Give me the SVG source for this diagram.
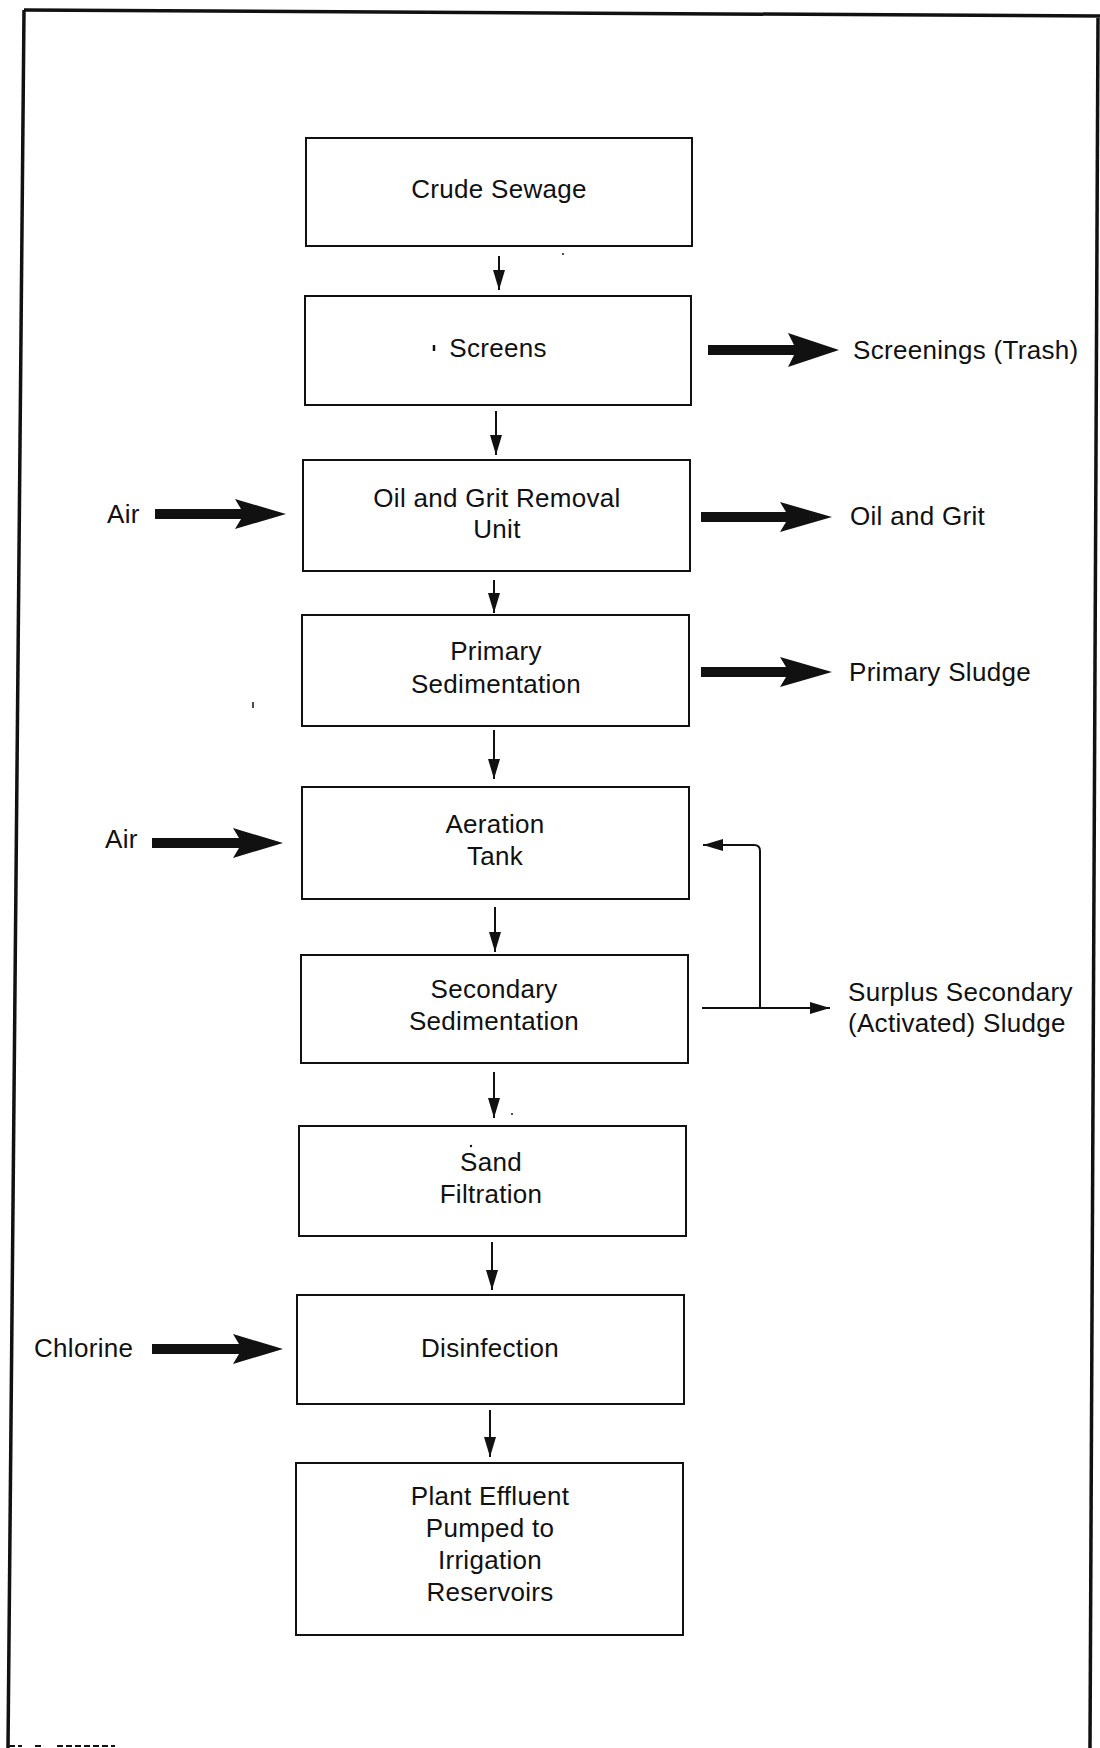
<svg xmlns="http://www.w3.org/2000/svg" width="1100" height="1748" viewBox="0 0 1100 1748">
<defs>
<style>
.box{fill:#fff;stroke:#111;stroke-width:2}
.t{font-family:"Liberation Sans",Arial,Helvetica,sans-serif;font-size:26px;fill:#111;letter-spacing:0.3px}
.m{text-anchor:middle}
.thin{stroke:#111;stroke-width:2;fill:none}
.fat{fill:#111;stroke:none}
.frame{stroke:#111;stroke-width:3.5;fill:none}
</style>
<marker id="ah" markerUnits="userSpaceOnUse" markerWidth="22" markerHeight="14" refX="20" refY="6" orient="auto">
<path d="M0,0 L20,6 L0,12 Z" fill="#111"/>
</marker>
</defs>
<rect width="1100" height="1748" fill="#fff"/>
<g id="frame">
<path class="frame" d="M24,10 L1100,16"/>
<path class="frame" d="M24,10 L8,1748"/>
<path class="frame" d="M1098,18 L1090,1748"/>
<path d="M9,1746 H22 M35,1746 H42 M57,1746 H115" stroke="#111" stroke-width="2" fill="none" stroke-dasharray="6 3"/>
</g>
<g id="n-crude"><rect class="box" x="306" y="138" width="386" height="108"/><text class="t m" x="499" y="198">Crude Sewage</text></g>
<g id="n-screens"><rect class="box" x="305" y="296" width="386" height="109"/><line x1="434" y1="345" x2="434" y2="351" stroke="#111" stroke-width="2.5"/><text class="t m" x="498" y="357">Screens</text></g>
<g id="n-oil"><rect class="box" x="303" y="460" width="387" height="111"/><text class="t m" x="497" y="507">Oil and Grit Removal</text><text class="t m" x="497" y="538">Unit</text></g>
<g id="n-primary"><rect class="box" x="302" y="615" width="387" height="111"/><text class="t m" x="496" y="660">Primary</text><text class="t m" x="496" y="693">Sedimentation</text></g>
<g id="n-aeration"><rect class="box" x="302" y="787" width="387" height="112"/><text class="t m" x="495" y="833">Aeration</text><text class="t m" x="495" y="865">Tank</text></g>
<g id="n-secondary"><rect class="box" x="301" y="955" width="387" height="108"/><text class="t m" x="494" y="998">Secondary</text><text class="t m" x="494" y="1030">Sedimentation</text></g>
<g id="n-sand"><rect class="box" x="299" y="1126" width="387" height="110"/><text class="t m" x="491" y="1171">Sand</text><text class="t m" x="491" y="1203">Filtration</text><circle cx="471" cy="1146" r="1.2" fill="#111"/></g>
<g id="n-disinfection"><rect class="box" x="297" y="1295" width="387" height="109"/><text class="t m" x="490" y="1357">Disinfection</text></g>
<g id="n-effluent"><rect class="box" x="296" y="1463" width="387" height="172"/><text class="t m" x="490" y="1505">Plant Effluent</text><text class="t m" x="490" y="1537">Pumped to</text><text class="t m" x="490" y="1569">Irrigation</text><text class="t m" x="490" y="1601">Reservoirs</text></g>
<g id="labels">
<text class="t" x="853" y="359">Screenings (Trash)</text>
<text class="t" x="850" y="525">Oil and Grit</text>
<text class="t" x="849" y="681">Primary Sludge</text>
<text class="t" x="848" y="1001">Surplus Secondary</text>
<text class="t" x="848" y="1032">(Activated) Sludge</text>
<text class="t" x="107" y="523">Air</text>
<text class="t" x="105" y="848">Air</text>
<text class="t" x="34" y="1357">Chlorine</text>
</g>
<g id="connectors">
<line class="thin" x1="499" y1="256" x2="499" y2="290" marker-end="url(#ah)"/>
<line class="thin" x1="496" y1="411" x2="496" y2="455" marker-end="url(#ah)"/>
<line class="thin" x1="494" y1="580" x2="494" y2="613" marker-end="url(#ah)"/>
<line class="thin" x1="494" y1="730" x2="494" y2="779" marker-end="url(#ah)"/>
<line class="thin" x1="495" y1="907" x2="495" y2="952" marker-end="url(#ah)"/>
<line class="thin" x1="494" y1="1072" x2="494" y2="1118" marker-end="url(#ah)"/>
<line class="thin" x1="492" y1="1242" x2="492" y2="1290" marker-end="url(#ah)"/>
<line class="thin" x1="490" y1="1410" x2="490" y2="1457" marker-end="url(#ah)"/>
<path class="thin" d="M760,1008 V851 Q760,845 754,845 H703" marker-end="url(#ah)"/>
<line class="thin" x1="702" y1="1008" x2="830" y2="1008" marker-end="url(#ah)"/>
<path class="fat" d="M708,345 H794 L788,333 L839,350 L788,367 L794,355 H708 Z"/>
<path class="fat" d="M701,512 H786 L780,502 L832,517 L780,532 L786,522 H701 Z"/>
<path class="fat" d="M701,667 H786 L780,657 L832,672 L780,687 L786,677 H701 Z"/>
<path class="fat" d="M155,509 H241 L235,499 L286,514 L235,529 L241,519 H155 Z"/>
<path class="fat" d="M152,838 H239 L233,828 L283,843 L233,858 L239,848 H152 Z"/>
<path class="fat" d="M152,1344 H239 L233,1334 L283,1349 L233,1364 L239,1354 H152 Z"/>
</g>
<g id="specks">
<circle cx="563" cy="254" r="1" fill="#111"/>
<line x1="253" y1="702" x2="253" y2="708" stroke="#111" stroke-width="1.5"/>
<circle cx="512" cy="1114" r="1" fill="#111"/>
</g>
</svg>
